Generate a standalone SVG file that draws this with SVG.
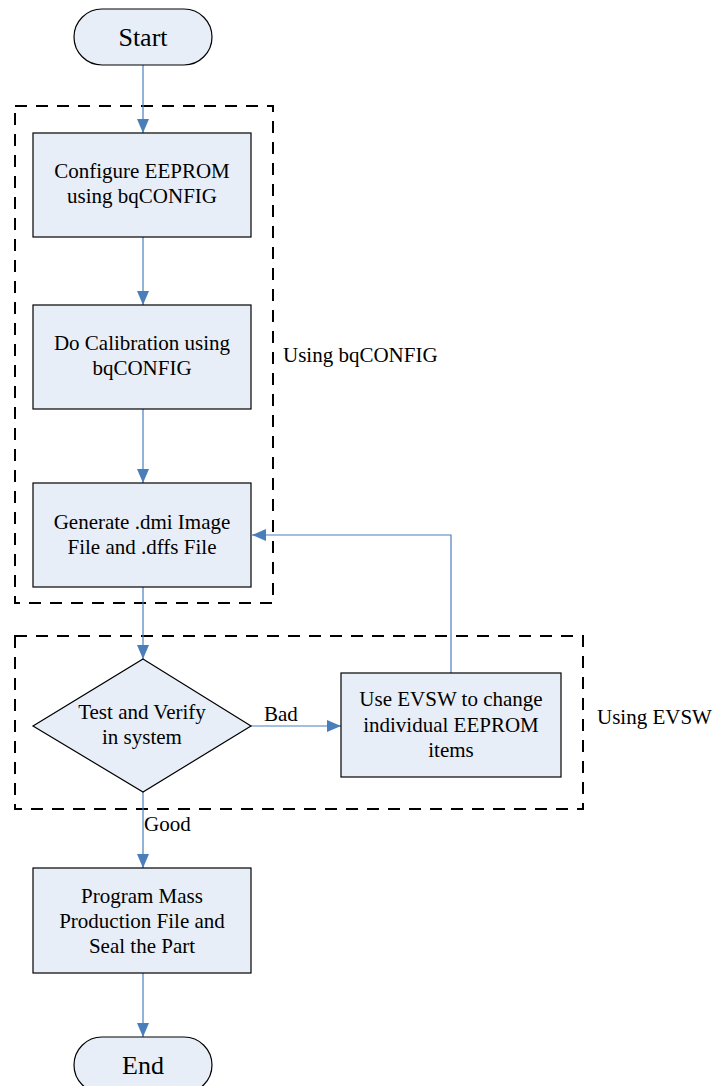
<svg xmlns="http://www.w3.org/2000/svg" width="714" height="1086" viewBox="0 0 714 1086">
<style>
.node{fill:#E8EEF7;stroke:#000;stroke-width:1.2}
.t{font-family:"Liberation Serif","Times New Roman",serif;font-size:21px;fill:#000;text-anchor:middle}
.tl{font-family:"Liberation Serif","Times New Roman",serif;font-size:21px;fill:#000}
.big{font-size:26px}
.conn{fill:none;stroke:#4A7EBB;stroke-width:1.2}
.group{fill:none;stroke:#000;stroke-width:2;stroke-dasharray:12 9}
</style>
<defs>
<marker id="arrow" viewBox="0 0 14 12" refX="14" refY="6" markerWidth="14" markerHeight="12" markerUnits="userSpaceOnUse" orient="auto">
<path d="M0,0 L14,6 L0,12 z" fill="#4A7EBB"/>
</marker>
</defs>
<g id="groups">
<rect class="group" x="15" y="106" width="258" height="497"/>
<rect class="group" x="15" y="636" width="568" height="173"/>
<text class="tl" x="283" y="362">Using bqCONFIG</text>
<text class="tl" x="597" y="724">Using EVSW</text>
</g>
<g id="connectors">
<line class="conn" x1="143" y1="65" x2="143" y2="133" marker-end="url(#arrow)"/>
<line class="conn" x1="143" y1="237" x2="143" y2="305" marker-end="url(#arrow)"/>
<line class="conn" x1="143" y1="409" x2="143" y2="483" marker-end="url(#arrow)"/>
<line class="conn" x1="143" y1="587" x2="143" y2="659" marker-end="url(#arrow)"/>
<line class="conn" x1="251" y1="726" x2="341" y2="726" marker-end="url(#arrow)"/>
<polyline class="conn" points="451,673 451,535 252,535" marker-end="url(#arrow)"/>
<line class="conn" x1="143" y1="792" x2="143" y2="868" marker-end="url(#arrow)"/>
<line class="conn" x1="143" y1="973" x2="143" y2="1037" marker-end="url(#arrow)"/>
<text class="tl" x="264" y="721">Bad</text>
<text class="tl" x="144" y="831">Good</text>
</g>
<g id="start">
<rect class="node" x="74" y="9" width="138" height="56" rx="28" ry="28"/>
<text class="t big" x="143" y="46">Start</text>
</g>
<g id="configure">
<rect class="node" x="33" y="133" width="218" height="104"/>
<text class="t" x="142" y="178">Configure EEPROM</text>
<text class="t" x="142" y="203">using bqCONFIG</text>
</g>
<g id="calibration">
<rect class="node" x="33" y="305" width="218" height="104"/>
<text class="t" x="142" y="350">Do Calibration using</text>
<text class="t" x="142" y="375">bqCONFIG</text>
</g>
<g id="generate">
<rect class="node" x="33" y="483" width="218" height="104"/>
<text class="t" x="142" y="529">Generate .dmi Image</text>
<text class="t" x="142" y="554">File and .dffs File</text>
</g>
<g id="test">
<polygon class="node" points="143,659 251,726 143,792 33,726"/>
<text class="t" x="142" y="719">Test and Verify</text>
<text class="t" x="142" y="744">in system</text>
</g>
<g id="evsw">
<rect class="node" x="341" y="673" width="220" height="104"/>
<text class="t" x="451" y="706">Use EVSW to change</text>
<text class="t" x="451" y="732">individual EEPROM</text>
<text class="t" x="451" y="757">items</text>
</g>
<g id="program">
<rect class="node" x="33" y="868" width="218" height="105"/>
<text class="t" x="142" y="903">Program Mass</text>
<text class="t" x="142" y="928">Production File and</text>
<text class="t" x="142" y="953">Seal the Part</text>
</g>
<g id="end">
<rect class="node" x="74" y="1037" width="138" height="56" rx="28" ry="28"/>
<text class="t big" x="143" y="1074">End</text>
</g>
</svg>
